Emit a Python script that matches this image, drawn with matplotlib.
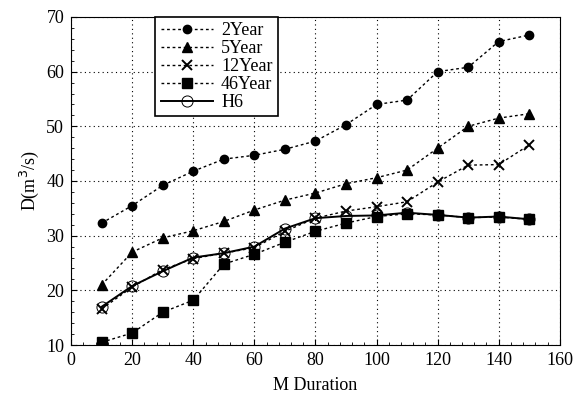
import matplotlib.pyplot as plt
from matplotlib.ticker import MultipleLocator

# durations and series
duration = [10, 20, 30, 40, 50, 60, 70, 80, 90, 100, 110, 120, 130, 140, 150]
y2 = [32.3, 35.5, 39.2, 41.8, 44.0, 44.7, 45.8, 47.3, 50.3, 54.0, 54.8, 60.0, 60.8, 65.5, 66.7]
y5 = [21.0, 27.0, 29.6, 30.9, 32.6, 34.7, 36.5, 37.8, 39.5, 40.6, 42.0, 46.0, 50.0, 51.5, 52.3]
y12 = [16.6, 20.6, 23.8, 25.8, 26.8, 27.8, 30.8, 33.2, 34.5, 35.3, 36.2, 39.8, 42.9, 43.0, 46.6]
y46 = [10.5, 12.2, 16.0, 18.2, 24.8, 26.6, 28.8, 30.8, 32.3, 33.5, 34.0, 33.8, 33.3, 33.4, 33.0]
h6 = [17.0, 20.8, 23.5, 26.0, 26.8, 28.0, 31.3, 33.2, 33.6, 33.7, 34.2, 33.8, 33.3, 33.5, 33.0]

plt.rcParams['font.family'] = ['Liberation Serif', 'DejaVu Serif']
plt.rcParams['font.size'] = 13

fig = plt.figure(figsize=(5.88, 4.04), dpi=100)
ax = fig.add_axes([0.121, 0.146, 0.831, 0.812])

dash = (0, (2, 2))
ax.plot(duration, y2, color='k', ls=dash, lw=1, marker='o', ms=6, label='2Year')
ax.plot(duration, y5, color='k', ls=dash, lw=1, marker='^', ms=7, label='5Year')
ax.plot(duration, y12, color='k', ls=dash, lw=1, marker='x', ms=7, mew=1.4, label='12Year')
ax.plot(duration, y46, color='k', ls=dash, lw=1, marker='s', ms=7, label='46Year')
ax.plot(duration, h6, color='k', ls='-', lw=1.4, marker='o', ms=8, mfc='none',
        mec='k', mew=0.7, label='H6')

ax.set_xlim(0, 160)
ax.set_ylim(10, 70)
ax.xaxis.set_major_locator(MultipleLocator(20))
ax.xaxis.set_minor_locator(MultipleLocator(4))
ax.yaxis.set_major_locator(MultipleLocator(10))
ax.yaxis.set_minor_locator(MultipleLocator(2))
ax.tick_params(which='both', direction='in', top=False, right=False, pad=5)
ax.tick_params(which='major', length=4)
ax.tick_params(which='minor', length=2)
ax.grid(True, which='major', color='k', ls=(0, (1, 3)), lw=0.8)

ax.set_xlabel('M Duration', fontsize=13, labelpad=6)
ax.set_ylabel('D(m$^3$/s)', fontsize=13)

leg = ax.legend(loc='upper left', bbox_to_anchor=(0.172, 1.0), borderaxespad=0,
                fancybox=False, framealpha=1, edgecolor='k', fontsize=13,
                handlelength=2.9, labelspacing=0.05, borderpad=0.3, handletextpad=0.45)
leg.get_frame().set_linewidth(1.2)

fig.savefig('out.png', dpi=100)
